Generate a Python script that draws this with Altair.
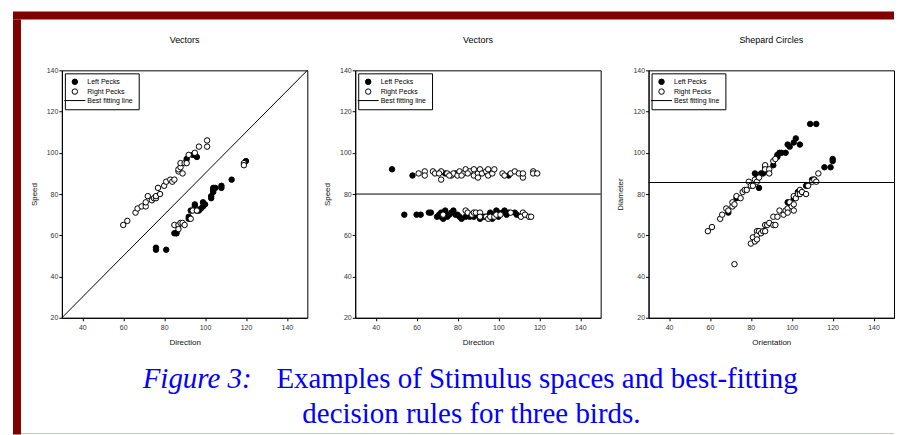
import altair as alt
import pandas as pd

# ---------------- data ----------------
SERIES = ["Left Pecks", "Right Pecks", "Best fitting line"]

# Panel 1: Vectors (Direction vs Speed)
p1_left_x = [91, 94, 96, 76, 76, 81, 85, 86, 86, 92, 92, 93, 95, 95, 96, 97, 98, 99, 99, 100,
             103, 103, 104, 104, 105, 104, 108, 108, 113, 120]
p1_left_y = [97, 99, 98, 54, 53, 53, 61, 61, 61, 69, 68, 72, 75, 74, 72, 72, 73, 74, 76, 75,
             78, 79, 82, 83, 83, 81, 83, 84, 87, 96]
p1_right_x = [60, 62, 66, 67, 69, 71, 71, 72, 74, 75, 76, 76, 77, 78, 80, 81, 83, 84, 85, 87,
              87, 88, 88, 89, 90, 91, 92, 95, 97, 101, 101, 85, 87, 87, 88, 89, 90, 93, 94, 96,
              119, 119]
p1_right_y = [65, 67, 71, 73, 74, 74, 76, 79, 77, 78, 78, 79, 83, 80, 84, 86, 87, 86, 87, 91,
              92, 93, 95, 90, 95, 95, 99, 100, 103, 103, 106, 65, 65, 63, 66, 66, 65, 68, 72, 72,
              95, 94]
p1_fit_x = [30, 150]
p1_fit_y = [20, 140]

# Panel 2: Vectors (Direction vs Speed)
p2_left_x = [48, 58, 74, 95, 105, 79,
             54, 60, 62, 66, 67, 71, 72, 73, 73, 74, 75, 76, 78, 79, 80, 81, 82, 84, 85, 86,
             88, 89, 91, 93, 94, 96, 96, 97, 98, 99, 100, 100, 102, 103, 104, 105, 108, 109,
             70, 72, 77, 74]
p2_left_y = [92, 89, 90, 90, 89, 90,
             70, 70, 70, 71, 71, 70, 69, 68, 71, 72, 69, 70, 72, 70, 70, 69, 68, 69, 70, 69,
             69, 70, 68, 69, 69, 70, 71, 68, 70, 72, 69, 71, 71, 72, 70, 71, 71, 70,
             69, 71, 71, 70]
p2_right_x = [61, 64, 64, 68, 69, 72, 72, 75, 77, 78, 80, 81, 83, 84, 86, 88, 88, 90, 90, 91,
              92, 94, 95, 95, 97, 98, 102, 103, 106, 108, 110, 112, 112, 117, 117, 119, 71, 76,
              82, 85,
              73, 84, 85, 87, 88, 89, 91, 91, 94, 95, 96, 98, 99, 101, 106, 112, 111, 113, 115,
              116]
p2_right_y = [90, 91, 89, 91, 90, 91, 87, 90, 89, 90, 89, 91, 90, 92, 91, 92, 89, 90, 88, 92,
              90, 91, 92, 89, 90, 92, 90, 89, 90, 91, 90, 88, 90, 91, 90, 90, 90, 89,
              89, 90,
              70, 72, 71, 70, 71, 71, 71, 69, 69, 68, 69, 69, 70, 70, 71, 71, 69, 70, 69,
              69]
p2_fit_x = [30, 150]
p2_fit_y = [80, 80]

# Panel 3: Shepard Circles (Orientation vs Diameter)
p3_left_x = [69, 73, 82, 83, 84, 85, 86, 87, 88, 87, 91, 93, 93, 94, 95, 97, 98, 99, 101, 102,
             104, 109, 112, 98, 99, 101, 103, 107, 110, 111, 116, 119, 120, 120]
p3_left_y = [71, 78, 90, 88, 83, 90, 90, 93, 91, 91, 94, 99, 98, 100, 100, 100, 104, 103, 105,
             107, 104, 114, 114, 76, 75, 78, 81, 84, 87, 87, 93, 93, 97, 96]
p3_right_x = [59, 61, 65, 66, 68, 69, 71, 71, 72, 73, 75, 76, 77, 78, 79, 80, 81, 82, 83, 84,
              87, 87, 89, 89, 91, 92,
              72, 80, 81, 82, 83, 83, 83, 84, 85, 86, 87, 88, 87, 89, 91, 92, 91, 93, 94, 96,
              97, 98, 98, 99, 100, 101, 101, 101, 102, 103, 104, 104, 105, 107, 108, 110, 111,
              112, 113]
p3_right_y = [62, 64, 68, 70, 73, 72, 74, 76, 75, 79, 78, 81, 82, 82, 86, 84, 84, 87, 86, 88,
              94, 92, 92, 90, 96, 97,
              46, 56, 59, 57, 62, 60, 58, 62, 61, 62, 65, 65, 62, 66, 65, 65, 69, 69, 72, 70,
              72, 73, 71, 76, 74, 75, 79, 72, 78, 80, 82, 80, 81, 80, 84, 86, 87,
              86, 90]
p3_fit_x = [30, 150]
p3_fit_y = [85.6, 85.6]

X_DOMAIN = [30, 150]
Y_DOMAIN = [20, 140]
X_TICKS = [40, 60, 80, 100, 120, 140]
Y_TICKS = [20, 40, 60, 80, 100, 120, 140]

CAPTION_LABEL = "Figure 3:"
CAPTION_LINE1 = "Examples of Stimulus spaces and best-fitting"
CAPTION_LINE2 = "decision rules for three birds."

# ---------------- styling ----------------
FONT = "Liberation Sans"
SERIF = "Liberation Serif"
FRAME = "#800000"
BLUE = "#0000ff"
LINE_SYMBOL = "M-3.83,0L3.83,0"
PW, PH = 246, 248
GAP = 48
FRAME_W = 1
RIGHT = 883  # frame band end, relative to the frame's left edge


def panel(title, xtitle, ytitle, lx, ly, rx, ry, fx, fy):
    pts = pd.DataFrame({
        "x": lx + rx,
        "y": ly + ry,
        "series": [SERIES[0]] * len(lx) + [SERIES[1]] * len(rx),
    })
    fit = pd.DataFrame({"x": fx, "y": fy})
    xs = alt.Scale(domain=X_DOMAIN, nice=False, zero=False)
    ys = alt.Scale(domain=Y_DOMAIN, nice=False, zero=False)
    xax = alt.Axis(values=X_TICKS, title=xtitle, grid=False, labelPadding=3, titlePadding=8)
    yax = alt.Axis(values=Y_TICKS, title=ytitle, grid=False, labelPadding=1, titlePadding=8)
    leg = alt.Legend(
        title=None, orient="top-left", offset=3, padding=5,
        strokeColor="black", fillColor="white",
        labelFont=FONT, labelFontSize=7, labelColor="black", labelOffset=9,
        symbolOffset=1.5, symbolSize=30, symbolStrokeWidth=1, symbolStrokeColor="black",
        rowPadding=-1.2,
    )
    points = alt.Chart(pts).mark_point(
        filled=True, size=30, strokeWidth=1, opacity=1
    ).encode(
        x=alt.X("x:Q", scale=xs, axis=xax),
        y=alt.Y("y:Q", scale=ys, axis=yax),
        shape=alt.Shape("series:N", scale=alt.Scale(domain=SERIES, range=["circle", "circle", LINE_SYMBOL]), legend=leg),
        fill=alt.Fill("series:N", scale=alt.Scale(domain=SERIES, range=["black", "white", "transparent"]), legend=leg),
        stroke=alt.Stroke("series:N", scale=alt.Scale(domain=SERIES, range=["black", "black", "black"]), legend=leg),
    )
    line = alt.Chart(fit).mark_line(color="black", strokeWidth=1).encode(
        x=alt.X("x:Q", scale=xs),
        y=alt.Y("y:Q", scale=ys),
    )
    return alt.layer(points, line).properties(
        width=PW, height=PH,
        title=alt.Title(title, font=FONT, fontSize=9, fontWeight="normal", color="black", offset=21, anchor="middle"),
        view=alt.ViewBackground(stroke="black", strokeWidth=1, strokeOpacity=1),
    )


p1 = panel("Vectors", "Direction", "Speed", p1_left_x, p1_left_y, p1_right_x, p1_right_y, p1_fit_x, p1_fit_y)
p2 = panel("Vectors", "Direction", "Speed", p2_left_x, p2_left_y, p2_right_x, p2_right_y, p2_fit_x, p2_fit_y)
p3 = panel("Shepard Circles", "Orientation", "Diameter", p3_left_x, p3_left_y, p3_right_x, p3_right_y, p3_fit_x, p3_fit_y)

# Decoration (slide frame + caption), drawn in a 1px-wide view left of the first panel;
# positions are relative to the top of the plot row.
deco = pd.DataFrame({"k": [0]})
top_band = alt.Chart(deco).mark_rect(color=FRAME).encode(
    x=alt.value(0), x2=alt.value(RIGHT), y=alt.value(-59), y2=alt.value(-51)
)
left_band = alt.Chart(deco).mark_rect(color=FRAME).encode(
    x=alt.value(0), x2=alt.value(8), y=alt.value(-51), y2=alt.value(365)
)
cap_a = alt.Chart(deco).mark_text(
    text=CAPTION_LABEL, font=SERIF, fontSize=29, fontStyle="italic",
    color=BLUE, align="left", baseline="alphabetic"
).encode(x=alt.value(130), y=alt.value(318))
cap_b = alt.Chart(deco).mark_text(
    text=CAPTION_LINE1, font=SERIF, fontSize=29,
    color=BLUE, align="left", baseline="alphabetic"
).encode(x=alt.value(264), y=alt.value(318))
cap_c = alt.Chart(deco).mark_text(
    text=CAPTION_LINE2, font=SERIF, fontSize=29,
    color=BLUE, align="left", baseline="alphabetic"
).encode(x=alt.value(290), y=alt.value(353))
pink = alt.Chart(deco).mark_rule(color="#e6b8b8", strokeWidth=1).encode(
    x=alt.value(8), x2=alt.value(RIGHT), y=alt.value(364)
)
frame = alt.layer(top_band, left_band, cap_a, cap_b, cap_c, pink).properties(width=FRAME_W, height=PH)

chart = alt.hconcat(frame, p1, p2, p3, spacing=GAP, bounds="flush").resolve_scale(
    shape="independent", fill="independent", stroke="independent"
).resolve_legend(
    shape="independent", fill="independent", stroke="independent"
).properties(
    padding={"left": 5, "top": 3, "right": 0, "bottom": 0},
    background="white",
).configure_view(
    strokeOpacity=0
).configure_axis(
    domainColor="black", domainWidth=1, tickColor="black", tickSize=3, tickWidth=1,
    labelFont=FONT, labelFontSize=7, labelColor="#333333",
    titleFont=FONT, titleFontSize=8, titleFontWeight="normal", titleColor="#111111",
    grid=False,
).configure_legend(
    strokeWidth=1, symbolSize=30, symbolStrokeWidth=1
)

chart.save("out.html", embed_options={"renderer": "svg", "actions": False})
